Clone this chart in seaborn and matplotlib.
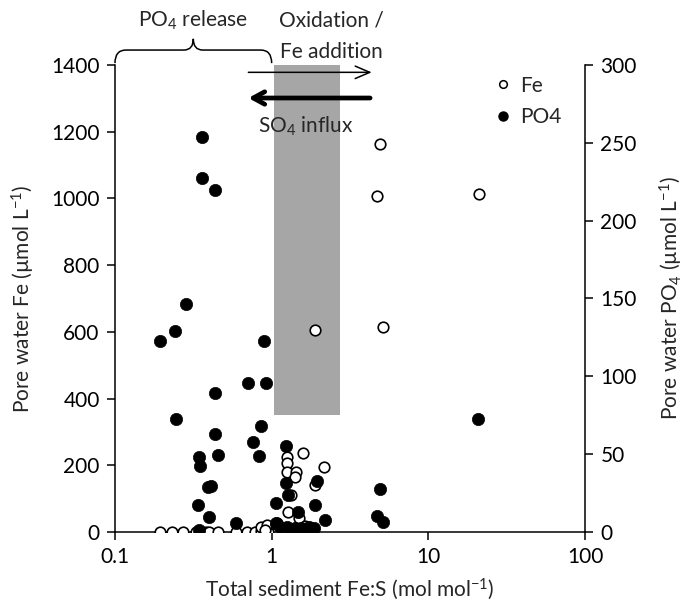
import numpy as np
import matplotlib
matplotlib.use("Agg")
import matplotlib.pyplot as plt
import seaborn as sns
from matplotlib.path import Path
from matplotlib.patches import PathPatch, Rectangle
from matplotlib.lines import Line2D
import matplotlib.transforms as mtransforms

# Pore water Fe (µmol/L) against sediment Fe:S ratio
fe_ratio = [0.195, 0.23, 0.27, 0.33, 0.38, 0.40, 0.455, 0.595, 0.70, 0.78,
            0.86, 0.95, 0.86, 0.93, 0.91,
            1.06, 1.08, 1.25, 1.25, 1.25, 1.44, 1.41, 1.58, 2.16, 1.89,
            1.33, 1.265, 1.49, 1.63, 1.80, 1.20, 1.40,
            1.89, 4.94, 4.68, 21.0, 5.16]
fe_conc = [0, 0, 0, 0, 0, 0, 0, 0, 0, 0,
           2, 0, 16, 20, 6,
           24, 26, 224, 206, 181, 181, 164, 236, 194, 141,
           111, 61, 42, 18, 9, 5, 3,
           606, 1163, 1006, 1014, 614]

# Pore water PO4 (µmol/L) against sediment Fe:S ratio
po4_ratio = [0.195, 0.24, 0.283, 0.244, 0.433, 0.342, 0.351, 0.437, 0.455,
             0.392, 0.412, 0.339, 0.40, 0.344, 0.589,
             0.898, 0.706, 0.920, 0.851, 0.756, 0.834,
             0.357, 0.361, 0.437,
             1.24, 1.24, 1.265, 1.066, 1.47, 1.88, 1.96, 2.18,
             1.13, 1.25, 1.41, 1.55, 1.72, 1.85, 1.07,
             20.9, 4.94, 4.73, 5.13]
po4_conc = [123, 129, 146.5, 72.6, 89.5, 48.4, 42.4, 63, 49.5,
            28.7, 29.6, 17.3, 9.4, 1.5, 5.6,
            122.5, 95.9, 95.9, 68.1, 57.8, 48.8,
            253.5, 227.2, 219.7,
            55, 31.7, 23.5, 18.6, 13, 17.5, 33, 7.7,
            3.5, 3.5, 2.5, 2.8, 3, 2.8, 5.6,
            72.6, 27.8, 10.5, 6.2]

# Transition zone (Fe:S range and Fe range)
zone_ratio = (1.03, 2.75)
zone_fe = (350, 1400)

x_ticks = [0.1, 1, 10, 100]
x_ticklabels = ["0.1", "1", "10", "100"]
fe_ticks = list(range(0, 1401, 200))
po4_ticks = list(range(0, 301, 50))

FS = 15

sns.set_style("ticks")
plt.rcParams["font.family"] = ["Lato", "DejaVu Sans"]
plt.rcParams["mathtext.fontset"] = "custom"
plt.rcParams["mathtext.rm"] = "Lato"
plt.rcParams["mathtext.it"] = "Lato:italic"
plt.rcParams["mathtext.default"] = "regular"
plt.rcParams["font.size"] = FS

fig = plt.figure(figsize=(6.86, 6.16), dpi=100)
ax = fig.add_axes([0.1676, 0.1364, 0.6852, 0.7581])
ax2 = ax.twinx()

ax.set_xscale("log")
ax.set_xlim(0.1, 100)
ax.set_ylim(0, 1400)
ax2.set_ylim(0, 300)

ax.add_patch(Rectangle((zone_ratio[0], zone_fe[0]), zone_ratio[1] - zone_ratio[0],
                       zone_fe[1] - zone_fe[0], facecolor="#a6a6a6",
                       edgecolor="none", zorder=0))

sns.scatterplot(x=fe_ratio, y=fe_conc, ax=ax, marker="o", s=58,
                color="white", edgecolor="black", linewidth=1.2,
                legend=False, zorder=3)
sns.scatterplot(x=po4_ratio, y=po4_conc, ax=ax2, marker="o", s=78,
                color="black", edgecolor="black", linewidth=0.5,
                legend=False, zorder=3)

ax.set_xticks(x_ticks)
ax.set_xticklabels(x_ticklabels)
ax.xaxis.set_minor_locator(matplotlib.ticker.NullLocator())
ax.set_yticks(fe_ticks)
ax2.set_yticks(po4_ticks)

for a in (ax, ax2):
    a.spines["top"].set_visible(False)
    for side in ("left", "right", "bottom"):
        a.spines[side].set_linewidth(1.1)
        a.spines[side].set_color("black")
    a.tick_params(direction="out", length=6, width=1.1, labelsize=FS,
                  colors="black", pad=5)
ax.spines["right"].set_visible(False)
ax2.spines["left"].set_visible(False)
ax2.spines["bottom"].set_visible(False)

ax.set_xlabel("Total sediment Fe:S (mol mol$^{-1}$)", fontsize=FS, labelpad=7)
ax.set_ylabel("Pore water Fe (µmol L$^{-1}$)", fontsize=FS, labelpad=10)
ax2.set_ylabel("Pore water PO$_4$ (µmol L$^{-1}$)", fontsize=FS, labelpad=15)

# Curly brace spanning Fe:S 0.1 to 1 above the axes
trans = mtransforms.blended_transform_factory(ax.transData, ax.transAxes)
u0, u1 = -1.0, 0.0
um = 0.5 * (u0 + u1)
yb, yl, yc = 1.004, 1.032, 1.056
pts = [
    (u0, yb), (u0, yl), (u0 + 0.07, yl),
    (um - 0.06, yl), (um, yl), (um, yc),
    (um, yl), (um + 0.06, yl),
    (u1 - 0.07, yl), (u1, yl), (u1, yb),
]
codes = [Path.MOVETO, Path.CURVE3, Path.CURVE3,
         Path.LINETO, Path.CURVE3, Path.CURVE3,
         Path.CURVE3, Path.CURVE3,
         Path.LINETO, Path.CURVE3, Path.CURVE3]
verts = [(10 ** u, y) for u, y in pts]
brace = PathPatch(Path(verts, codes), facecolor="none", edgecolor="black",
                  lw=1.1, transform=trans, clip_on=False)
ax.add_patch(brace)

ax.text(10 ** um, 1.095, "PO$_4$ release", transform=trans, ha="center",
        va="center", fontsize=FS)
ax.text(2.4, 1.095, "Oxidation /", transform=trans, ha="center",
        va="center", fontsize=FS)
ax.text(2.4, 1.027, "Fe addition", transform=trans, ha="center",
        va="center", fontsize=FS)

# Process arrows
ax.annotate("", xy=(4.35, 1378), xytext=(0.71, 1378),
            arrowprops=dict(arrowstyle="->,head_length=0.7,head_width=0.3",
                            lw=1.1, color="black", shrinkA=0, shrinkB=0),
            annotation_clip=False, zorder=4)
ax.annotate("", xy=(0.71, 1301), xytext=(4.25, 1301),
            arrowprops=dict(arrowstyle="->,head_length=0.55,head_width=0.3",
                            lw=3.4, color="black", shrinkA=0, shrinkB=0),
            annotation_clip=False, zorder=4)
ax.text(1.65, 1215, "SO$_4$ influx", ha="center", va="center", fontsize=FS,
        zorder=4)

handles = [
    Line2D([], [], marker="o", linestyle="none", markersize=5.5,
           markerfacecolor="white", markeredgecolor="black",
           markeredgewidth=1.1, label="Fe"),
    Line2D([], [], marker="o", linestyle="none", markersize=6.5,
           markerfacecolor="black", markeredgecolor="black", label="PO4"),
]
ax2.legend(handles=handles, loc="upper left", bbox_to_anchor=(0.795, 0.995),
           frameon=False, fontsize=FS, handlelength=0.6, handletextpad=0.5,
           labelspacing=0.55, borderaxespad=0)

fig.savefig("out.png", dpi=100, facecolor="white")
